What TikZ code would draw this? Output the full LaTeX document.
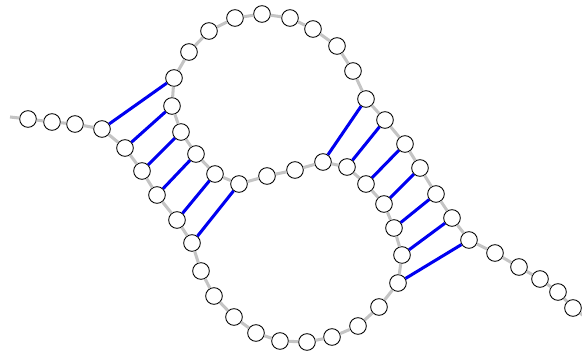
\documentclass[tikz,border=0pt]{standalone}
\usepackage{tikz}
\definecolor{Strand}{HTML}{C4C4C4}
\definecolor{Bond}{HTML}{0000F0}

\begin{document}
\begin{tikzpicture}[x=0.03cm,y=-0.03cm,
    base/.style={circle,draw=black,fill=white,line width=0.75pt,
      minimum size=0.5cm,inner sep=0pt},
    backbone/.style={line width=2.6pt,Strand},
    bond/.style={line width=2.6pt,Bond}
  ]
    \useasboundingbox (0,0) rectangle (582,356);
    % nucleotides along the strand
    \foreach \p [count=\i] in {(28,119),(52,122),(75,124),(102,129),(125,148),
      (142,171),(157,195),(177,220),(192,243),(201,271),(214,296),(234,317),
      (256,333),(280,341),(307,342),(332,337),(358,326),(379,307),(398,283),
      (402,255),(394,228),(384,204),(366,184),(347,167),(323,162),(295,170),
      (267,176),(239,184),(215,174),(196,154),(181,132),(172,106),(174,78),
      (189,52),(209,31),(235,18),(262,14),(290,18),(313,29),(337,46),(353,71),
      (366,99),(385,120),(405,144),(420,168),(436,194),(452,218),(469,240),
      (495,253),(519,267),(540,279),(558,292),(573,308)}
      \node[base] (n\i) at \p {};
    \coordinate (start) at (10,117);
    \coordinate (end) at (584,316);
    % backbone
    \draw[backbone] (start) -- (n1);
    \foreach \i [evaluate=\i as \j using int(\i+1)] in {1,...,52}
      \draw[backbone] (n\i) -- (n\j);
    \draw[backbone] (n53) -- (end);
    % base pairs
    \foreach \a/\b in {4/33,5/32,6/31,7/30,8/29,9/28,
      25/42,24/43,23/44,22/45,21/46,20/47,19/48}
      \draw[bond] (n\a) -- (n\b);
  \end{tikzpicture}
\end{document}
